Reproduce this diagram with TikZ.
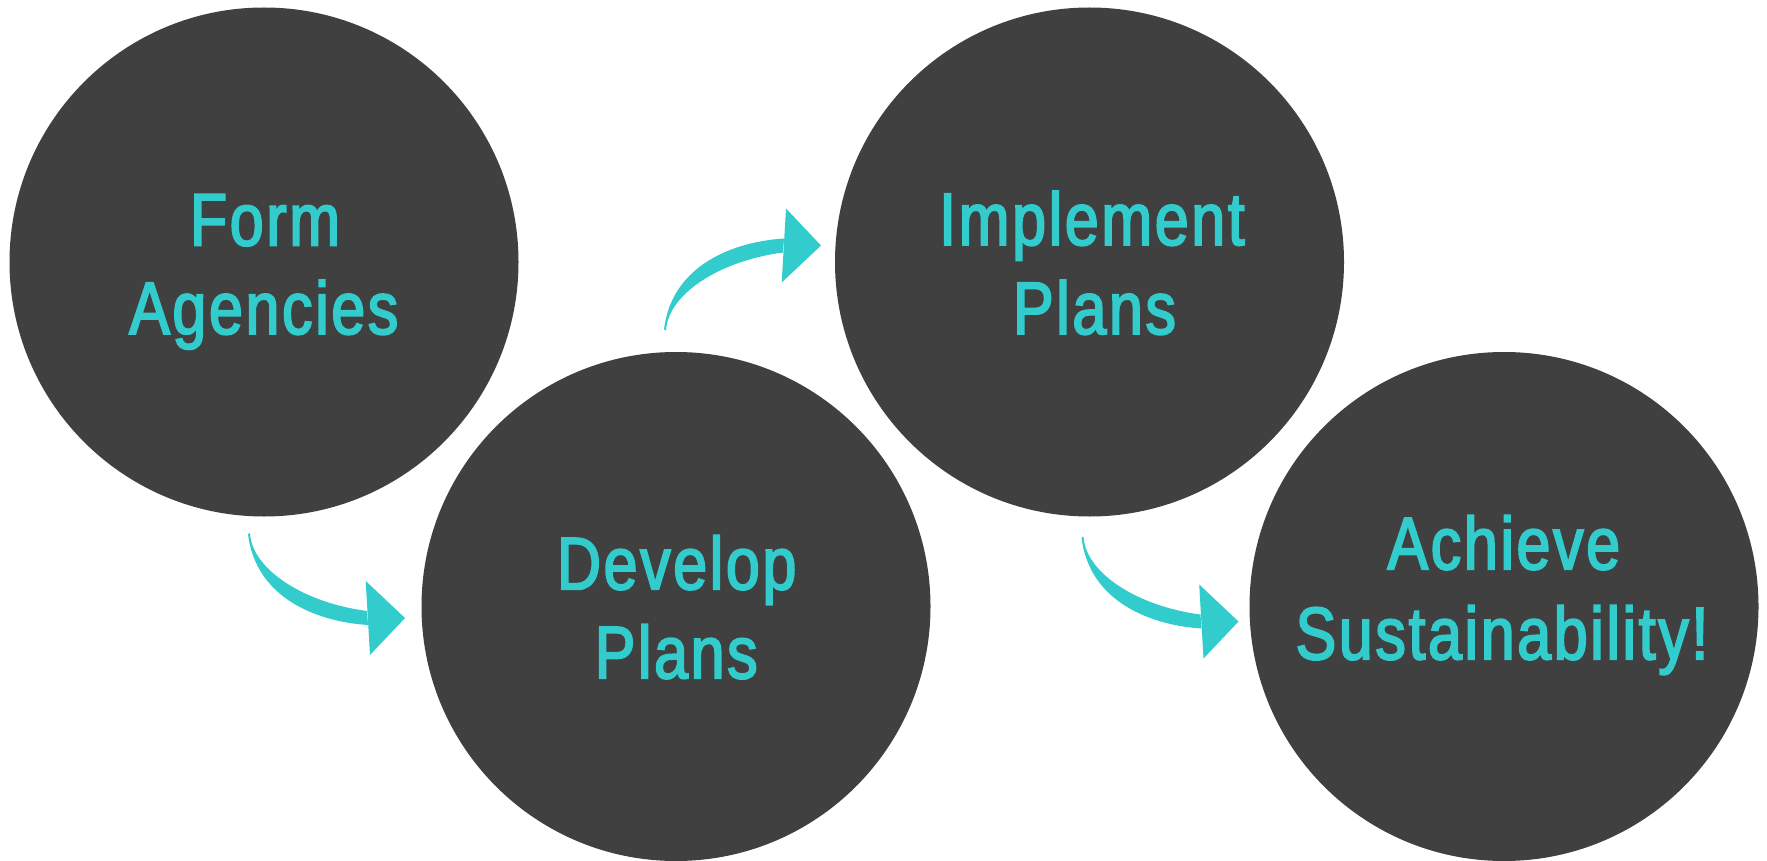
\documentclass[tikz,border=0pt]{standalone}
\usepackage{fontspec}
\setmainfont{Liberation Sans}[FakeStretch=0.82,LetterSpace=3.5,FakeBold=2.5]
\definecolor{disc}{HTML}{404040}
\definecolor{teal}{HTML}{33CCCC}
\tikzset{
  disc/.style={circle,fill=disc,draw=none,minimum size=509pt,inner sep=0pt},
  lbl/.style={anchor=base,inner sep=0pt,text=teal,font=\fontsize{74.4}{89}\selectfont},
  arrowfill/.style={fill=teal,draw=none}
}
\newcommand{\bentarrowshape}{%
  \fill[arrowfill] (250,533) .. controls (252,570) and (305,603) .. (367,611)
     -- (368,625) .. controls (320,622) and (256,600) .. (248,534) -- cycle;
  \fill[arrowfill] (365.7,581) -- (405,618) -- (370,655) -- cycle;
}
\begin{document}
\begin{tikzpicture}[x=1pt,y=-1pt]
\useasboundingbox (0,0) rectangle (1767,861);
\fill[white] (0,0) rectangle (1767,861);
% circles
\node[disc] (c1) at (264,262) {};
\node[disc] (c2) at (676,606.5) {};
\node[disc] (c3) at (1089.5,262) {};
\node[disc] (c4) at (1504,606.5) {};
% labels
\node[lbl] (t1a) at (265,245.5) {Form};
\node[lbl] (t1b) at (263.8,334) {Agencies};
\node[lbl] (t2a) at (676.7,589.3) {Develop};
\node[lbl] (t2b) at (676.2,678.3) {Plans};
\node[lbl] (t3a) at (1092,245) {Implement};
\node[lbl] (t3b) at (1094.5,334) {Plans};
\node[lbl] (t4a) at (1503.8,569.3) {Achieve};
\node[lbl] (t4b) at (1502,659.3) {Sustainability!};
% arrows
\begin{scope}
  \bentarrowshape
\end{scope}
\begin{scope}[shift={(416,863.5)},yscale=-1]
  \bentarrowshape
\end{scope}
\begin{scope}[shift={(833.5,3.5)}]
  \bentarrowshape
\end{scope}
\end{tikzpicture}
\end{document}
